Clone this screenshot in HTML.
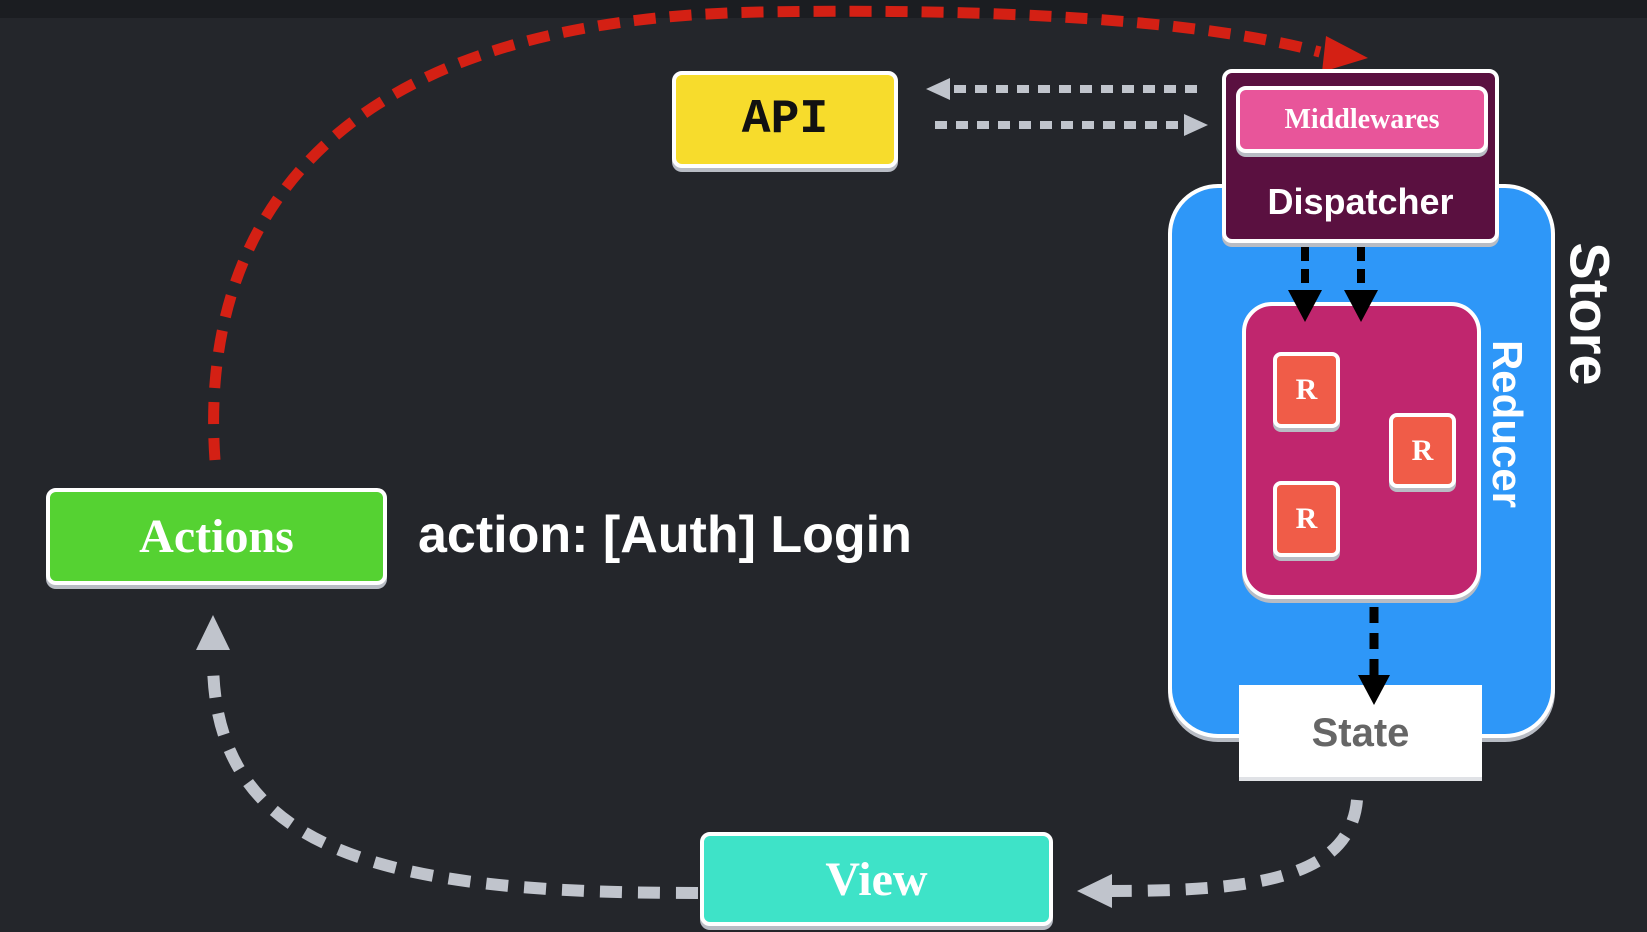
<!DOCTYPE html>
<html><head><style>
body{margin:0;width:1647px;height:932px;background:#24262b;overflow:hidden;position:relative;font-family:"Liberation Sans",sans-serif}
.b{position:absolute;box-sizing:border-box;border:4px solid #fff;display:flex;align-items:center;justify-content:center;box-shadow:0 4px 0 #b8bcc4}
.serif{font-family:"Liberation Serif",serif;font-weight:bold}
</style></head><body>
<div style="position:absolute;left:0;top:0;width:1647px;height:18px;background:#1b1d21"></div>
<svg width="1647" height="932" style="position:absolute;left:0;top:0">
<path d="M215,460 C200,250 300,20 760,12 C1000,8 1200,20 1320,52" fill="none" stroke="#d42014" stroke-width="11" stroke-dasharray="22 14"/>
<polygon points="1368,58 1326,36 1322,72" fill="#d42014"/>
<line x1="1197" y1="89" x2="940" y2="89" stroke="#c0c4cc" stroke-width="8" stroke-dasharray="12 9"/>
<polygon points="926,89 950,78 950,100" fill="#c0c4cc"/>
<line x1="935" y1="125" x2="1190" y2="125" stroke="#c0c4cc" stroke-width="8" stroke-dasharray="12 9"/>
<polygon points="1208,125 1184,114 1184,136" fill="#c0c4cc"/>
<path d="M1357,800 C1350,880 1250,891 1110,891" fill="none" stroke="#c0c4cc" stroke-width="12" stroke-dasharray="22 16"/>
<polygon points="1077,891 1112,874 1112,908" fill="#c0c4cc"/>
<path d="M698,893 C400,893 213,860 213,660" fill="none" stroke="#c0c4cc" stroke-width="12" stroke-dasharray="22 16"/>
<polygon points="213,615 196,650 230,650" fill="#c0c4cc"/>
</svg>
<div class="b serif" style="left:672px;top:71px;width:226px;height:97px;background:#f7dc2c;border-radius:10px;font-size:48px;color:#111;font-family:'Liberation Mono',monospace">API</div>
<div class="b serif" style="left:46px;top:488px;width:341px;height:97px;background:#55d232;border-radius:10px;font-size:48px;color:#fff">Actions</div>
<div style="position:absolute;left:418px;top:505px;font-size:52px;font-weight:bold;color:#fff">action: [Auth] Login</div>
<div class="b serif" style="left:700px;top:832px;width:353px;height:94px;background:#3ee3c8;border-radius:10px;font-size:48px;color:#fff">View</div>
<div class="b" style="left:1168px;top:184px;width:387px;height:554px;background:#2e97f8;border-radius:50px"></div>
<div class="b" style="left:1222px;top:69px;width:277px;height:174px;background:#5a1040;border-radius:10px;display:block">
<div class="b serif" style="position:absolute;left:10px;top:13px;width:252px;height:67px;background:#e8559a;border-radius:10px;font-size:28px;color:#fff">Middlewares</div>
<div style="position:absolute;left:0;right:0;top:108px;text-align:center;font-size:36px;font-weight:bold;color:#fff">Dispatcher</div>
</div>
<div class="b" style="left:1242px;top:302px;width:239px;height:297px;background:#c0266e;border-radius:30px"></div>
<svg width="1647" height="932" style="position:absolute;left:0;top:0">
<line x1="1305" y1="247" x2="1305" y2="295" stroke="#000" stroke-width="8" stroke-dasharray="14 8"/>
<polygon points="1288,290 1322,290 1305,322" fill="#000"/>
<line x1="1361" y1="247" x2="1361" y2="295" stroke="#000" stroke-width="8" stroke-dasharray="14 8"/>
<polygon points="1344,290 1378,290 1361,322" fill="#000"/>
</svg>
<div class="b serif" style="left:1273px;top:352px;width:67px;height:76px;background:#f05c48;border-radius:8px;font-size:30px;color:#fff">R</div>
<div class="b serif" style="left:1389px;top:413px;width:67px;height:75px;background:#f05c48;border-radius:8px;font-size:30px;color:#fff">R</div>
<div class="b serif" style="left:1273px;top:481px;width:67px;height:76px;background:#f05c48;border-radius:8px;font-size:30px;color:#fff">R</div>
<div style="position:absolute;left:1239px;top:685px;width:243px;height:96px;background:#fff;box-shadow:0 -4px 0 #e0e2e6 inset;display:flex;align-items:center;justify-content:center;font-size:40px;font-weight:bold;color:#666">State</div>
<svg width="1647" height="932" style="position:absolute;left:0;top:0">
<line x1="1374" y1="607" x2="1374" y2="680" stroke="#000" stroke-width="9" stroke-dasharray="16 10"/>
<polygon points="1358,675 1390,675 1374,705" fill="#000"/>
</svg>
<div style="position:absolute;left:1507px;top:424px;transform:translate(-50%,-50%) rotate(90deg);font-size:42px;font-weight:bold;color:#fff;white-space:nowrap">Reducer</div>
<div style="position:absolute;left:1590px;top:314px;transform:translate(-50%,-50%) rotate(90deg);font-size:56px;font-weight:bold;color:#fff;white-space:nowrap">Store</div>
</body></html>
